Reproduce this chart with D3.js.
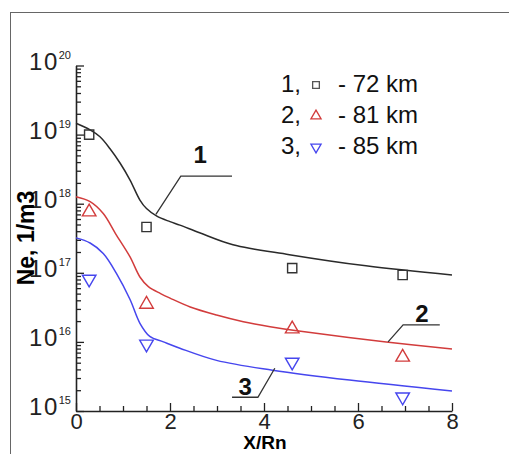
<!DOCTYPE html>
<html>
<head>
<meta charset="utf-8">
<script src="https://cdn.jsdelivr.net/npm/d3@7"></script>
<style>
  body { margin: 0; background: #fff; }
  svg { display: block; font-family: "Liberation Sans", Arial, sans-serif; }
</style>
</head>
<body>
<div id="visualization"></div>
<script>
// measured points (X/Rn, Ne)
const pointX = [0.28, 1.5, 4.6, 6.95];
const ne72 = [1.0e19, 4.6e17, 1.17e17, 9.3e16];
const ne81 = [7.6e17, 3.5e16, 1.54e16, 6.0e15];
const ne85 = [8.1e16, 9.3e15, 5.1e15, 1.6e15];

// computed curves
const curve1X = [0, 0.3, 0.51, 0.72, 0.94, 1.15, 1.36, 1.5, 1.72, 2.0, 2.21, 2.63, 3.34, 4.54, 6.17, 8];
const curve1Y = [1.46e19, 1.17e19, 9.3e18, 6.3e18, 3.85e18, 2.2e18, 1.13e18, 8.5e17, 6.6e17, 5.5e17, 4.9e17, 3.8e17, 2.55e17, 1.83e17, 1.26e17, 9.3e16];
const curve2X = [0, 0.3, 0.58, 0.84, 1.15, 1.36, 1.54, 1.8, 2.0, 2.43, 2.99, 3.56, 4.13, 4.7, 6.6, 8];
const curve2Y = [1.26e18, 1.07e18, 7.2e17, 3.7e17, 1.7e17, 8.7e16, 6.3e16, 5.0e16, 4.3e16, 3.2e16, 2.45e16, 1.96e16, 1.66e16, 1.45e16, 1.0e16, 7.9e15];
const curve3X = [0, 0.3, 0.58, 0.86, 1.15, 1.36, 1.57, 1.86, 2.21, 2.99, 4.18, 5.82, 8];
const curve3Y = [3.2e17, 2.7e17, 1.9e17, 9.8e16, 4.1e16, 1.86e16, 1.2e16, 1.0e16, 8.1e15, 5.4e15, 3.9e15, 2.8e15, 1.95e15];

const xTicks = [0, 2, 4, 6, 8];
const yDecades = [15, 16, 17, 18, 19, 20];
const legendLabels = ["1,", "2,", "3,"];
const legendKm = ["- 72 km", "- 81 km", "- 85 km"];

const width = 509, height = 454;
const margin = {top: 65.5, left: 76, right: 57, bottom: 43};

const svg = d3.select("#visualization").append("svg")
    .attr("width", width)
    .attr("height", height);

// outer frame, runs off the picture on the right and bottom
svg.append("rect")
    .attr("x", 10.5).attr("y", 12.5)
    .attr("width", 520).attr("height", 470)
    .attr("fill", "none")
    .attr("stroke", "#666")
    .attr("stroke-width", 1);

const x = d3.scaleLinear().domain([0, 8]).range([margin.left, width - margin.right]);
const y = d3.scaleLog().domain([1e15, 1e20]).range([height - margin.bottom, margin.top]);

const colors = {k: "#2a2a2a", r: "#d23c3c", b: "#4646ee"};

// minor ticks
const minorY = [];
yDecades.slice(0, -1).forEach(e => {
    for (let m = 2; m <= 9; m++) minorY.push(m * Math.pow(10, e));
});
const minorX = d3.range(0.5, 8, 0.5).filter(v => v % 2 !== 0);

const yMinor = svg.append("g")
    .attr("transform", `translate(${margin.left},0)`)
    .call(d3.axisLeft(y).tickValues(minorY).tickSize(-5).tickFormat(""));
yMinor.select(".domain").remove();

const xMinor = svg.append("g")
    .attr("transform", `translate(0,${height - margin.bottom})`)
    .call(d3.axisBottom(x).tickValues(minorX).tickSize(-5).tickFormat(""));
xMinor.select(".domain").remove();

const yAxis = svg.append("g")
    .attr("transform", `translate(${margin.left},0)`)
    .call(d3.axisLeft(y).tickValues(yDecades.map(e => Math.pow(10, e)))
        .tickSizeInner(-8).tickSizeOuter(0).tickPadding(5).tickFormat(""));

const xAxis = svg.append("g")
    .attr("transform", `translate(0,${height - margin.bottom})`)
    .call(d3.axisBottom(x).tickValues(xTicks).tickSizeInner(-8).tickSizeOuter(0).tickPadding(2));

[yMinor, xMinor, yAxis, xAxis].forEach(g => {
    g.selectAll("line").attr("stroke", "#222").attr("stroke-width", 1.3);
    g.select(".domain").attr("stroke", "#222").attr("stroke-width", 1.6);
});

xAxis.selectAll("text")
    .attr("font-size", "22px")
    .attr("fill", "#222")
    .attr("font-family", "Liberation Sans, Arial, sans-serif");

// decade labels with superscript
yAxis.selectAll(".tick").each(function(d) {
    const t = d3.select(this).select("text")
        .attr("font-family", "Liberation Sans, Arial, sans-serif")
        .attr("fill", "#222")
        .attr("dy", "0.36em");
    t.append("tspan").attr("font-size", "24px").attr("letter-spacing", "1.5px").text("10");
    t.append("tspan").attr("font-size", "11px").attr("dy", "-11").text(Math.round(Math.log10(d)));
});

// curves
const line = d3.line().x(d => x(d[0])).y(d => y(d[1])).curve(d3.curveCatmullRom.alpha(0.5));
[[curve1X, curve1Y, colors.k], [curve2X, curve2Y, colors.r], [curve3X, curve3Y, colors.b]].forEach(([cx, cy, c]) => {
    svg.append("path")
        .datum(cx.map((v, i) => [v, cy[i]]))
        .attr("d", line)
        .attr("fill", "none")
        .attr("stroke", c)
        .attr("stroke-width", 1.5);
});

// markers
function drawMarkers(vals, sym, size, c, rot) {
    svg.append("g").selectAll("path")
        .data(vals.map((v, i) => [pointX[i], v]))
        .join("path")
        .attr("d", d3.symbol().type(sym).size(size))
        .attr("transform", d => `translate(${x(d[0])},${y(d[1])}) rotate(${rot})`)
        .attr("fill", "none")
        .attr("stroke", c)
        .attr("stroke-width", 1.4);
}
drawMarkers(ne72, d3.symbolSquare, 85, "#333", 0);
drawMarkers(ne81, d3.symbolTriangle, 80, colors.r, 0);
drawMarkers(ne85, d3.symbolTriangle, 80, colors.b, 180);

// curve labels with leader lines (data coordinates)
const leaders = [
    {label: "1", tx: 2.64, ty: 3.9e18, pts: [[3.32, 2.5e18], [2.23, 2.5e18], [1.70, 7.0e17]]},
    {label: "2", tx: 7.36, ty: 1.95e16, pts: [[7.74, 1.76e16], [6.96, 1.76e16], [6.64, 1.0e16]]},
    {label: "3", tx: 3.6, ty: 1.7e15, pts: [[3.32, 1.58e15], [3.87, 1.58e15], [4.23, 4.15e15]]}
];
leaders.forEach(l => {
    svg.append("path")
        .attr("d", d3.line().x(d => x(d[0])).y(d => y(d[1]))(l.pts))
        .attr("fill", "none")
        .attr("stroke", "#333")
        .attr("stroke-width", 1.3);
    svg.append("text")
        .attr("x", x(l.tx)).attr("y", y(l.ty))
        .attr("text-anchor", "middle")
        .attr("font-size", "24px")
        .attr("font-weight", "bold")
        .attr("fill", "#111")
        .text(l.label);
});

// legend
const legend = svg.append("g");
const legendSym = [
    [d3.symbolSquare, 45, "#555", 0],
    [d3.symbolTriangle, 45, colors.r, 0],
    [d3.symbolTriangle, 45, colors.b, 180]
];
legendLabels.forEach((lab, i) => {
    const yy = 83 + i * 31;
    legend.append("text")
        .attr("x", 281).attr("y", yy).attr("dy", "0.36em")
        .attr("font-size", "24px").attr("fill", "#111")
        .text(lab);
    legend.append("path")
        .attr("d", d3.symbol().type(legendSym[i][0]).size(legendSym[i][1]))
        .attr("transform", `translate(316,${yy + 2}) rotate(${legendSym[i][3]})`)
        .attr("fill", "none")
        .attr("stroke", legendSym[i][2])
        .attr("stroke-width", 1.3);
    legend.append("text")
        .attr("x", 338).attr("y", yy).attr("dy", "0.36em")
        .attr("font-size", "24px").attr("fill", "#111")
        .text(legendKm[i]);
});

// axis titles
svg.append("text")
    .attr("x", 265).attr("y", 449)
    .attr("text-anchor", "middle")
    .attr("font-size", "19px").attr("font-weight", "bold")
    .text("X/Rn");

svg.append("text")
    .attr("transform", `translate(34,238) rotate(-90)`)
    .attr("text-anchor", "middle")
    .attr("font-size", "23px").attr("font-weight", "bold")
    .text("Ne, 1/m3");
</script>
</body>
</html>
